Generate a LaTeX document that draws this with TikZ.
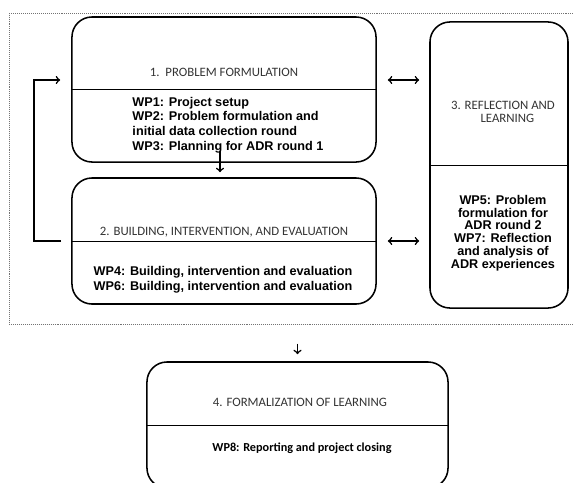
\documentclass[tikz,border=0pt]{standalone}
\usepackage{fontspec}
\setmainfont{Carlito}
\newfontfamily\wpfont{Liberation Sans}

\begin{document}
\begin{tikzpicture}[x=0.025cm,y=-0.025cm,
  phase/.style={draw,line width=1.1pt,rounded corners=0.5cm,inner sep=0pt},
  title/.style={font=\fontsize{9.1}{8.7}\selectfont,text=black!80,align=center},
  wp/.style={font=\wpfont\bfseries\fontsize{9}{10.5}\selectfont},
  link/.style={->,line width=1.1pt},
  pair/.style={<->,line width=1.1pt}]
\useasboundingbox (0,0) rectangle (574,482);

\node[draw=black!55,densely dotted,inner sep=0pt,minimum width=14.375cm,minimum height=7.775cm,anchor=north west] (frame) at (9,13) {};

\node[phase,minimum width=7.6cm,minimum height=3.625cm] (prob) at (224,89.5) {};
\node[phase,minimum width=7.6cm,minimum height=3.15cm] (build) at (224,241) {};
\node[phase,minimum width=3.45cm,minimum height=7.15cm] (refl) at (499,165) {};
\node[phase,minimum width=7.525cm,minimum height=3.15cm] (form) at (297.5,425) {};

\draw[line width=0.6pt] (prob.west) -- (prob.east);
\draw[line width=0.6pt] (build.west) -- (build.east);
\draw[line width=0.6pt] (refl.west) -- (refl.east);
\draw[line width=0.6pt] (form.west) -- (form.east);

\node[title] (probT) at (224,72) {1.\ \ PROBLEM FORMULATION};
\node[wp,align=left] (probWP) at (228,125) {WP1: Project setup\\WP2: Problem formulation and\\initial data collection round\\WP3: Planning for ADR round 1};
\node[title] (buildT) at (224,232) {2. BUILDING, INTERVENTION, AND EVALUATION};
\node[wp,align=center,font=\wpfont\bfseries\fontsize{9}{10.7}\selectfont] (buildWP) at (223,279.5) {WP4: Building, intervention and evaluation\\WP6: Building, intervention and evaluation};
\node[title] (reflT) at (503,112) {3. REFLECTION AND\\\ \ \ LEARNING};
\node[wp,align=center,font=\wpfont\bfseries\fontsize{9}{9.1}\selectfont] (reflWP) at (503,233) {WP5: Problem\\formulation for\\ADR round 2\\WP7: Reflection\\and analysis of\\ADR experiences};
\node[title] (formT) at (300,402) {4. FORMALIZATION OF LEARNING};
\node[font=\bfseries\fontsize{8.7}{10}\selectfont] (formWP) at (302,448) {WP8: Reporting and project closing};

\coordinate (p1) at ([yshift=0.2375cm]prob.east);
\coordinate (p2) at ([yshift=0.2375cm]prob.west);

\draw[link,shorten <=-0.3cm,shorten >=0.125cm] ([xshift=-0.1cm]prob.south) -- ([xshift=-0.1cm]build.north);
\draw[link,shorten <=0.25cm,shorten >=0.275cm] (build.west) -- ++(-37,0) |- (p2);
\draw[pair,shorten <=0.275cm,shorten >=0.25cm] (p1) -- (p1 -| refl.west);
\draw[pair,shorten <=0.275cm,shorten >=0.25cm] (build.east) -- (build.east -| refl.west);
\draw[link,shorten <=0.475cm,shorten >=0.175cm] (frame.south -| form.north) -- (form.north);

\end{tikzpicture}
\end{document}
